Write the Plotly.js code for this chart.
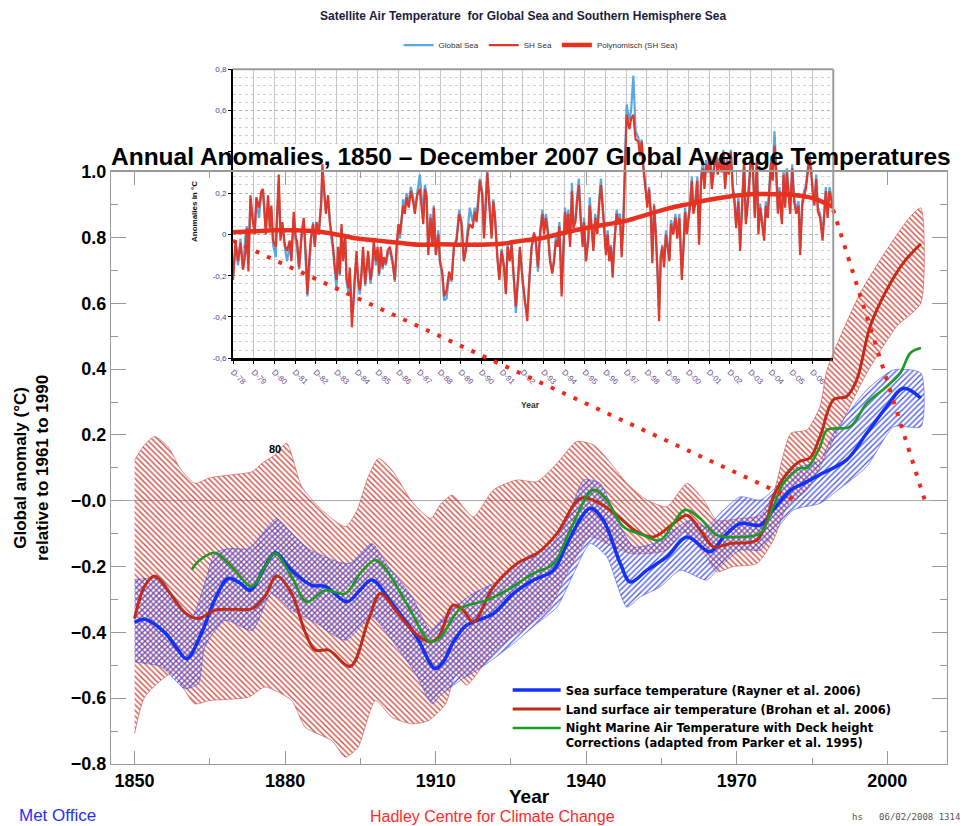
<!DOCTYPE html>
<html>
<head>
<meta charset="utf-8">
<script src="https://cdn.plot.ly/plotly-3.0.1.min.js"></script>
<style>
  html, body { margin: 0; padding: 0; background: #fff; }
  #chart { width: 976px; height: 826px; }
</style>
</head>
<body>
<div id="chart"></div>
<script>
// ---------- Main chart: smoothed annual anomalies (°C, relative to 1961-1990) ----------
const seaYears = [1850,1852,1856,1858.5,1860.4,1863.4,1866,1868.7,1871,1873,1876,1878,1881.3,1885.3,1888,1892.3,1895,1897.3,1901.3,1906.2,1909.9,1911.5,1913.5,1916,1921.5,1925.5,1929.5,1933.5,1936.2,1940.8,1943.4,1946.8,1948.8,1952.1,1956.1,1960.1,1964.7,1967.4,1970.7,1974.7,1977.3,1980.8,1983,1986.6,1991.9,1995.9,1999.9,2003.2,2006.7];
const seaValues = [-0.37,-0.36,-0.40,-0.45,-0.48,-0.40,-0.30,-0.236,-0.25,-0.272,-0.20,-0.158,-0.211,-0.257,-0.26,-0.307,-0.27,-0.241,-0.312,-0.414,-0.51,-0.49,-0.43,-0.38,-0.343,-0.282,-0.241,-0.211,-0.13,-0.023,-0.059,-0.191,-0.247,-0.211,-0.17,-0.11,-0.155,-0.11,-0.069,-0.074,-0.028,0.033,0.05,0.08,0.124,0.205,0.286,0.342,0.312];

const landYears = [1850,1852,1854,1857,1860,1862.7,1866,1870,1873.4,1876,1878.3,1881.3,1884,1886,1888.7,1893,1896.6,1899,1902,1906,1908.9,1910.6,1913.5,1915.5,1917.5,1921.5,1926.2,1930.2,1934.2,1938.8,1942.1,1946.1,1950.1,1953.4,1957.4,1960.1,1962.7,1965.4,1968.7,1974,1976,1977.3,1980,1982.6,1984.6,1986.6,1989.3,1991.9,1993.9,1996.6,1999.9,2003.2,2006.7];
const landValues = [-0.358,-0.26,-0.229,-0.28,-0.34,-0.358,-0.333,-0.33,-0.328,-0.29,-0.229,-0.282,-0.40,-0.454,-0.454,-0.503,-0.363,-0.282,-0.333,-0.404,-0.429,-0.413,-0.317,-0.333,-0.368,-0.262,-0.191,-0.16,-0.099,0.007,-0.003,-0.044,-0.094,-0.11,-0.069,-0.044,-0.089,-0.14,-0.13,-0.12,-0.059,0.012,0.083,0.12,0.13,0.195,0.307,0.317,0.367,0.53,0.641,0.723,0.781];

const nmatYears = [1861.4,1863,1866,1868,1870,1873.4,1876,1878,1881.3,1884.3,1888,1892,1895,1898,1900.2,1904.6,1909,1911,1914.9,1920.2,1924.2,1929.5,1933.5,1936.8,1941.4,1944.1,1947.4,1951.4,1954.7,1959.7,1962.7,1966,1970.7,1974.7,1977.3,1979.3,1982.6,1984,1986.6,1988,1992.6,1995.9,1999.9,2002.6,2004.6,2006.7];
const nmatValues = [-0.209,-0.18,-0.158,-0.18,-0.211,-0.26,-0.2,-0.16,-0.231,-0.307,-0.272,-0.282,-0.22,-0.18,-0.211,-0.323,-0.429,-0.414,-0.328,-0.302,-0.272,-0.221,-0.191,-0.089,0.033,0.002,-0.079,-0.104,-0.12,-0.028,-0.054,-0.104,-0.11,-0.099,-0.018,0.053,0.099,0.10,0.164,0.215,0.225,0.296,0.347,0.388,0.449,0.464];

// Uncertainty ranges
const landUpperYears = [1850,1852,1854,1856.7,1859,1862,1865,1870,1873.4,1875.4,1878,1880.3,1883.3,1887.3,1892,1894.3,1896.5,1898.6,1901.3,1905.3,1909,1911,1913.3,1917.5,1921.5,1926.2,1930.2,1934.2,1938.1,1941.4,1944.1,1948.1,1952.1,1956.1,1960.1,1963.4,1966,1970.7,1974.7,1977.3,1980.8,1984,1986.6,1988,1994.6,1999.9,2004.6,2006.7];
const landUpper = [0.124,0.17,0.195,0.164,0.10,0.053,0.07,0.08,0.088,0.114,0.14,0.175,0.043,-0.028,-0.079,-0.03,0.07,0.129,0.093,-0.003,-0.054,-0.01,0.017,-0.049,0.033,0.063,0.058,0.114,0.18,0.17,0.129,0.053,0.002,-0.018,0.053,0.002,-0.059,-0.054,-0.044,0.022,0.205,0.215,0.286,0.398,0.631,0.763,0.864,0.89];
const landLowerYears = [1850,1852,1857.4,1862,1865,1872.7,1876,1881.3,1884,1889.3,1892,1894.5,1898,1901.3,1905.3,1908.6,1912,1914,1916.2,1920.2,1924.2,1928.2,1932.8,1936.2,1940.8,1945.4,1948.8,1952.8,1956.1,1959.4,1964,1966,1969.3,1974,1977.3,1980,1984,1989.3,1995.9,2001.9,2006.7];
const landLower = [-0.708,-0.597,-0.526,-0.617,-0.607,-0.597,-0.566,-0.607,-0.688,-0.729,-0.779,-0.75,-0.607,-0.658,-0.678,-0.668,-0.617,-0.53,-0.56,-0.485,-0.424,-0.383,-0.323,-0.221,-0.11,-0.14,-0.16,-0.16,-0.15,-0.094,-0.17,-0.216,-0.2,-0.191,-0.12,-0.018,0.033,0.185,0.388,0.53,0.601];

const seaUpperYears = [1850,1855.4,1857.4,1861.4,1864,1866,1868.7,1872.7,1875.5,1878.3,1881.3,1884.6,1890.6,1893,1897.3,1900.6,1905.3,1909,1912.2,1917.5,1922.8,1928.2,1932.8,1936.2,1939.5,1942.8,1946.1,1949.5,1953.4,1957.4,1960.7,1964,1966.7,1970.7,1974.7,1977.3,1980.8,1986.6,1989.3,1995.9,2001.3,2006.7];
const seaUpper = [-0.239,-0.239,-0.282,-0.353,-0.25,-0.16,-0.145,-0.145,-0.10,-0.054,-0.099,-0.145,-0.186,-0.19,-0.13,-0.2,-0.292,-0.394,-0.343,-0.282,-0.241,-0.17,-0.14,-0.059,0.063,0.053,-0.059,-0.14,-0.13,-0.089,-0.059,-0.079,-0.038,0.012,0.002,0.033,0.093,0.124,0.205,0.337,0.398,0.388];
const seaLowerYears = [1850,1855.4,1860,1862.7,1864,1868,1873.4,1877.3,1881.3,1886,1892,1897.3,1901.3,1906,1909.3,1911,1914.9,1920.2,1925.5,1930.2,1934.2,1937.5,1940.8,1944.1,1948.1,1950.8,1954.7,1958.8,1964,1966.7,1970.7,1974.7,1977.3,1981.3,1986.6,1989.3,1995.9,2001.3,2006.7];
const seaLower = [-0.49,-0.505,-0.571,-0.556,-0.444,-0.363,-0.394,-0.282,-0.333,-0.37,-0.424,-0.353,-0.424,-0.526,-0.617,-0.59,-0.546,-0.495,-0.434,-0.373,-0.323,-0.221,-0.13,-0.17,-0.323,-0.292,-0.262,-0.211,-0.241,-0.2,-0.15,-0.15,-0.099,-0.028,-0.008,0.022,0.104,0.225,0.225];

// Dotted connectors from the satellite panel down to the main record
const connectorLeftYears = [1869.6, 1982.0];
const connectorLeftValues = [0.79, 0.0];
const connectorRightYears = [1989.2, 2007.5];
const connectorRightValues = [0.885, 0.0];

const mainXTicks = [1850, 1880, 1910, 1940, 1970, 2000];
const mainYTicks = [-0.8, -0.6, -0.4, -0.2, 0, 0.2, 0.4, 0.6, 0.8, 1.0];
const mainYLabels = ['\u22120.8', '\u22120.6', '\u22120.4', '\u22120.2', '\u22120.0', '0.2', '0.4', '0.6', '0.8', '1.0'];

// ---------- Satellite panel: monthly anomalies from Dec 1978 (month 0) ----------
const insetMonths = [
  0,1.5,2.9,4.3,5.8,7.2,8.1,8.9,10.1,11.2,
  12.6,13.5,15.1,16.4,17.4,19.0,20.3,21.3,22.2,23.2,
  24.8,25.5,26.5,27.5,28.6,30.0,31.3,32.9,33.8,35.2,
  36.4,37.1,38.3,39.7,41.0,42.2,43.1,44.1,45.1,46.4,
  47.4,48.4,49.7,51.1,51.8,52.8,53.8,55.1,56.1,57.1,
  58.0,59.0,60.0,60.9,61.9,62.9,63.8,65.0,65.8,66.9,
  67.7,68.9,69.6,70.6,71.6,72.5,73.5,74.5,75.4,76.6,
  77.4,78.3,79.7,80.7,81.6,82.8,83.8,84.7,85.7,86.7,
  87.4,88.6,89.6,90.9,92.5,93.8,94.8,95.9,96.7,97.7,
  98.6,99.6,100.6,101.9,103.1,104.4,105.4,106.8,
  108.3,110.3,111.2,112.2,113.2,114.5,115.7,116.4,117.6,119.0,
  120.0,121.3,122.4,123.8,125.3,126.7,128.1,129.6,131.1,132.5,
  133.8,135.0,136.4,137.3,138.9,140.2,141.2,142.2,143.1,144.5,
  145.5,146.6,147.4,148.6,149.9,150.9,151.9,153.2,154.4,155.7,
  157.1,158.2,159.2,160.5,161.5,162.8,164.0,165.4,166.3,167.9,
  169.2,170.6,171.8,173.1,174.5,175.6,176.8,178.0,179.4,180.3,
  181.4,182.6,183.8,185.1,186.1,187.2,188.2,189.2,190.5,191.5,
  192.5,193.4,194.4,195.4,196.5,197.3,198.5,199.5,200.5,201.5,
  202.7,203.5,204.6,206.0,206.8,207.9,208.9,210.0,211.2,212.4,
  213.3,214.3,215.3,216.2,217.2,218.1,219.1,220.1,221.0,222.4,
  223.3,224.4,225.3,
  226.3,228.2,229.8,230.8,232.1,233.4,235.0,235.9,236.9,237.9,
  239.3,240.2,241.2,242.2,243.1,244.1,245.1,246.0,247.0,248.0,
  248.9,249.9,251.0,252.0,253.0,253.9,255.3,256.5,257.6,258.8,
  260.2,261.2,262.1,263.1,264.1,265.0,266.0,266.9,267.9,269.2,
  270.2,271.4,272.3,273.3,274.3,275.6,276.6,277.6,278.9,280.1,
  281.0,282.0,283.4,284.3,285.3,286.3,287.4,288.6,289.7,290.7,
  291.7,293.0,294.0,295.0,296.3,297.3,298.3,299.4,300.4,301.4,
  302.5,303.7,304.6,305.6,306.8,307.9,308.9,310.0,311.0,312.0,
  312.9,313.9,314.9,315.9,316.8,318.2,319.2,320.1,321.1,322.1,
  323.0,324.2,325.3,326.5,327.9,328.8,330.0,331.1,332.1,333.1,
  334.2,335.2,336.2,337.1,338.1,339.1,340.4,341.8,342.7,343.7,
  344.7,345.8,347.0,348.0
];
const shSea = [
  -0.22,-0.03,-0.13,-0.04,-0.17,-0.09,0.03,-0.18,0.19,0.08,
  0.0,0.18,0.13,0.21,0.22,0.0,0.19,0.03,0.14,-0.03,
  -0.06,0.1,0.29,-0.03,0.06,-0.05,-0.08,-0.03,-0.13,0.11,
  -0.02,-0.03,-0.16,0.0,0.08,-0.1,-0.29,-0.13,-0.02,0.05,
  -0.06,0.06,0.0,0.16,0.34,0.22,0.1,0.19,0.06,0.0,
  -0.06,-0.16,-0.22,-0.06,-0.19,0.05,-0.13,0.0,-0.21,-0.26,
  -0.16,-0.45,-0.35,-0.18,-0.08,-0.22,-0.27,-0.18,-0.06,-0.24,
  -0.16,-0.08,-0.22,-0.16,-0.03,-0.13,-0.06,-0.19,-0.06,-0.16,
  -0.11,-0.14,-0.08,-0.06,-0.13,-0.22,-0.06,0.05,0.0,0.08,
  0.14,0.1,0.18,0.13,0.21,0.16,0.1,0.19,
  0.22,0.05,0.22,0.18,-0.1,0.08,-0.06,0.13,-0.1,0.0,
  -0.13,-0.18,-0.3,-0.27,-0.18,-0.22,-0.06,-0.03,0.1,0.05,
  -0.13,-0.08,0.02,0.05,0.03,0.11,0.06,0.16,0.26,0.19,
  -0.02,0.16,0.3,0.14,-0.02,0.16,0.08,-0.11,-0.22,-0.08,
  -0.16,-0.29,-0.06,-0.13,-0.05,-0.21,-0.35,-0.19,-0.06,-0.22,
  -0.32,-0.42,-0.21,-0.06,0.01,-0.03,-0.16,0.0,0.1,0.0,
  0.08,0.0,-0.13,-0.19,-0.13,-0.03,-0.06,0.04,-0.3,-0.06,
  0.11,0.0,0.1,-0.06,0.21,0.03,0.06,0.16,0.24,0.08,
  -0.06,0.06,-0.13,-0.03,0.14,0.03,-0.08,0.08,0.0,0.16,
  0.24,0.13,0.03,-0.1,0.0,-0.13,-0.06,-0.21,-0.06,0.1,
  0.06,0.08,-0.11,
  0.05,0.58,0.51,0.56,0.58,0.46,0.45,0.38,0.45,0.32,
  0.22,0.13,0.22,0.1,-0.14,0.14,0.0,-0.16,-0.42,-0.11,
  -0.06,-0.16,0.0,-0.06,-0.13,0.05,0.0,0.08,-0.02,0.08,
  -0.22,-0.06,0.11,0.0,0.08,0.14,0.26,0.1,0.14,0.26,
  -0.05,0.27,0.32,0.22,0.34,0.3,0.37,0.22,0.32,0.38,
  0.29,0.35,0.3,0.4,0.22,0.35,0.29,0.4,0.22,0.16,
  0.03,0.16,-0.08,0.11,0.35,0.05,0.13,0.26,0.38,0.32,
  0.08,0.35,0.0,0.13,0.03,-0.03,0.14,0.08,0.22,0.35,
  0.26,0.43,0.3,0.1,0.21,0.05,0.29,0.13,0.3,0.19,
  0.1,0.32,0.16,0.1,0.14,-0.1,0.14,0.19,0.22,0.29,
  0.37,0.3,0.19,0.14,0.27,0.11,0.08,-0.03,0.1,0.21,
  0.08,0.21,0.16,0.13
];
const globalSea = [
  -0.2,-0.05,-0.15,-0.02,-0.17,0.0,0.04,-0.12,0.17,0.1,
  0.02,0.16,0.08,0.2,0.2,0.03,0.17,0.05,0.12,-0.05,
  -0.11,0.08,0.24,-0.01,0.04,-0.06,-0.13,-0.05,-0.12,0.09,
  -0.04,-0.06,-0.17,-0.02,0.06,-0.14,-0.3,-0.19,-0.04,0.06,
  -0.05,0.05,0.01,0.14,0.3,0.2,0.12,0.17,0.05,-0.02,
  -0.08,-0.2,-0.27,-0.08,-0.2,0.03,-0.12,-0.02,-0.23,-0.28,
  -0.18,-0.38,-0.36,-0.2,-0.1,-0.24,-0.29,-0.2,-0.08,-0.25,
  -0.17,-0.1,-0.24,-0.18,-0.05,-0.15,-0.08,-0.2,-0.08,-0.17,
  -0.12,-0.15,-0.1,-0.08,-0.14,-0.23,-0.08,0.02,-0.02,0.06,
  0.17,0.12,0.2,0.15,0.23,0.18,0.12,0.21,
  0.29,0.08,0.24,0.2,-0.08,0.1,-0.05,0.14,-0.1,0.02,
  -0.14,-0.2,-0.32,-0.31,-0.2,-0.23,-0.05,-0.02,0.12,0.06,
  -0.12,-0.06,0.05,0.13,0.06,0.13,0.08,0.18,0.27,0.21,
  0.0,0.18,0.31,0.16,0.0,0.17,0.09,-0.1,-0.21,-0.07,
  -0.15,-0.28,-0.05,-0.12,-0.04,-0.22,-0.38,-0.2,-0.07,-0.23,
  -0.33,-0.38,-0.22,-0.07,0.0,-0.05,-0.18,0.01,0.12,0.02,
  0.1,0.02,-0.12,-0.18,-0.12,-0.01,-0.04,0.06,-0.24,-0.04,
  0.13,0.02,0.12,-0.04,0.25,0.05,0.08,0.18,0.27,0.1,
  -0.04,0.08,-0.11,-0.01,0.18,0.05,-0.06,0.1,0.02,0.18,
  0.27,0.15,0.05,-0.08,0.02,-0.12,-0.05,-0.18,-0.04,0.12,
  0.08,0.1,-0.08,
  0.08,0.63,0.55,0.6,0.77,0.5,0.47,0.4,0.46,0.34,
  0.24,0.15,0.23,0.12,-0.1,0.15,0.02,-0.14,-0.36,-0.1,
  -0.05,-0.14,0.02,-0.04,-0.12,0.07,0.02,0.1,0.0,0.1,
  -0.2,-0.04,0.13,0.02,0.1,0.16,0.28,0.12,0.16,0.28,
  -0.03,0.29,0.34,0.24,0.36,0.32,0.38,0.24,0.34,0.4,
  0.31,0.37,0.32,0.41,0.24,0.37,0.31,0.41,0.24,0.18,
  0.05,0.18,-0.06,0.13,0.36,0.07,0.15,0.28,0.4,0.34,
  0.1,0.37,0.02,0.15,0.05,-0.01,0.16,0.1,0.24,0.38,
  0.3,0.5,0.34,0.12,0.23,0.07,0.31,0.15,0.32,0.21,
  0.12,0.34,0.18,0.12,0.16,-0.07,0.16,0.21,0.24,0.31,
  0.39,0.32,0.21,0.16,0.29,0.13,0.1,-0.01,0.12,0.23,
  0.1,0.23,0.18,0.15
];
const polyMonths = [0,12,24,36,48,60,72,84,96,108,120,132,144,156,168,180,192,204,216,228,240,252,264,276,288,300,312,324,336,348];
const polyTrend = [0.01,0.015,0.02,0.02,0.015,0.0,-0.02,-0.03,-0.04,-0.05,-0.048,-0.05,-0.05,-0.045,-0.03,-0.016,0.008,0.03,0.048,0.066,0.096,0.125,0.147,0.168,0.184,0.195,0.195,0.192,0.176,0.133];

const insetTickMonths = [0,12,24,36,48,60,72,84,96,108,120,132,144,156,168,180,192,204,216,228,240,252,264,276,288,300,312,324,336];
const insetTickLabels = ['D-78','D-79','D-80','D-81','D-82','D-83','D-84','D-85','D-86','D-87','D-88','D-89','D-90','D-91','D-92','D-93','D-94','D-95','D-96','D-97','D-98','D-99','D-00','D-01','D-02','D-03','D-04','D-05','D-06'];
// the 0,4 label sits under the main heading
const insetYTicks = [-0.6, -0.4, -0.2, 0, 0.2, 0.4, 0.6, 0.8];
const insetYLabels = ['-0,6', '-0,4', '-0,2', '0', '0,2', '', '0,6', '0,8'];

// ---------- Figure ----------
const FONT = 'Liberation Sans, Arial, Helvetica, sans-serif';
const LEGEND_FONT = 'DejaVu Sans, Liberation Sans, sans-serif';
const LAND_HATCH = 'rgba(205,60,48,0.9)';
const SEA_HATCH = 'rgba(60,75,235,0.9)';

function band(upX, upY, loX, loY, color, shape) {
  return {
    type: 'scatter', mode: 'lines', xaxis: 'x2', yaxis: 'y2',
    showlegend: false, hoverinfo: 'skip',
    x: upX.concat(loX.slice().reverse()),
    y: upY.concat(loY.slice().reverse()),
    fill: 'toself', fillcolor: 'rgba(0,0,0,0)',
    fillpattern: { shape: shape, fgcolor: color, bgcolor: 'rgba(255,255,255,0)', size: 4, solidity: 0.36 },
    line: { color: color, width: 0.6, shape: 'spline', smoothing: 0.6 }
  };
}

const traces = [
  // satellite panel
  { type: 'scatter', mode: 'lines', xaxis: 'x', yaxis: 'y', legend: 'legend2', name: 'Global Sea',
    x: insetMonths, y: globalSea, line: { color: '#5aa8e2', width: 2.2 }, hoverinfo: 'skip' },
  { type: 'scatter', mode: 'lines', xaxis: 'x', yaxis: 'y', legend: 'legend2', name: 'SH Sea',
    x: insetMonths, y: shSea, line: { color: '#e0382a', width: 2.2 }, hoverinfo: 'skip' },
  { type: 'scatter', mode: 'lines', xaxis: 'x', yaxis: 'y', legend: 'legend2', name: 'Polynomisch (SH Sea)',
    x: polyMonths, y: polyTrend, line: { color: '#e8301e', width: 4.5, shape: 'spline' }, hoverinfo: 'skip' },

  // main chart: uncertainty bands
  band(landUpperYears, landUpper, landLowerYears, landLower, LAND_HATCH, '\\'),
  band(seaUpperYears, seaUpper, seaLowerYears, seaLower, SEA_HATCH, '/'),

  // main chart: smoothed series
  { type: 'scatter', mode: 'lines', xaxis: 'x2', yaxis: 'y2', name: 'Sea surface temperature (Rayner et al. 2006)',
    x: seaYears, y: seaValues, line: { color: '#1432f5', width: 3.5, shape: 'spline', smoothing: 1 }, hoverinfo: 'skip' },
  { type: 'scatter', mode: 'lines', xaxis: 'x2', yaxis: 'y2', name: 'Land surface air temperature (Brohan et al. 2006)',
    x: landYears, y: landValues, line: { color: '#bf2c1a', width: 3, shape: 'spline', smoothing: 1 }, hoverinfo: 'skip' },
  { type: 'scatter', mode: 'lines', xaxis: 'x2', yaxis: 'y2',
    name: 'Night Marine Air Temperature with Deck height<br>Corrections (adapted from Parker et al. 1995)',
    x: nmatYears, y: nmatValues, line: { color: '#1c9a22', width: 2.6, shape: 'spline', smoothing: 1 }, hoverinfo: 'skip' },

  // connectors
  { type: 'scatter', mode: 'lines', xaxis: 'x2', yaxis: 'y2', showlegend: false, hoverinfo: 'skip',
    x: connectorLeftYears, y: connectorLeftValues, line: { color: '#f0281a', width: 4, dash: '4px,8.5px' } },
  { type: 'scatter', mode: 'lines', xaxis: 'x2', yaxis: 'y2', showlegend: false, hoverinfo: 'skip',
    x: connectorRightYears, y: connectorRightValues, line: { color: '#f0281a', width: 4, dash: '4px,8.5px' } }
];

const AXC = '#9a9a9a';
const layout = {
  width: 976, height: 826,
  margin: { l: 111, r: 29.3, t: 40, b: 62 },
  paper_bgcolor: '#ffffff', plot_bgcolor: 'rgba(0,0,0,0)',
  font: { family: FONT, color: '#000' },
  showlegend: true,

  // satellite panel axes
  xaxis: {
    domain: [0.14598, 0.86395], anchor: 'y', range: [0, 348],
    tickmode: 'array', tickvals: insetTickMonths, ticktext: insetTickLabels,
    tickangle: 45, tickfont: { size: 8, color: '#6a4f92' },
    showgrid: true, gridcolor: '#c6c6c6', gridwidth: 1,
    showline: true, linecolor: '#000', linewidth: 3,
    ticks: 'outside', ticklen: 3, tickcolor: '#000',
    zeroline: false, fixedrange: true
  },
  yaxis: {
    domain: [0.5604, 0.9595], anchor: 'x', range: [-0.6, 0.8],
    tickmode: 'array', tickvals: insetYTicks, ticktext: insetYLabels,
    tickfont: { size: 8, color: '#3a48a8' },
    showgrid: true, gridcolor: '#b9aab8', griddash: 'dot', gridwidth: 1,
    minor: { tickmode: 'linear', tick0: 0, dtick: 0.04, showgrid: true, gridcolor: '#dccbd8', griddash: 'dot', gridwidth: 1 },
    showline: true, linecolor: '#000', linewidth: 2,
    ticks: 'outside', ticklen: 3, tickcolor: '#000',
    zeroline: false, fixedrange: true
  },

  // main chart axes
  xaxis2: {
    domain: [0, 1], anchor: 'y2', range: [1845.3, 2011.9],
    tickmode: 'array', tickvals: mainXTicks, ticktext: mainXTicks.map(String),
    tickfont: { size: 18, weight: 'bold', color: '#000' },
    ticks: 'inside', ticklen: 13, tickcolor: AXC, tickwidth: 1,
    minor: { tickmode: 'linear', tick0: 1850, dtick: 15, ticks: 'inside', ticklen: 6, tickcolor: AXC },
    showline: true, linecolor: AXC, linewidth: 1.2, mirror: 'ticks',
    showgrid: false, zeroline: false, fixedrange: true
  },
  yaxis2: {
    domain: [0, 0.8181], anchor: 'x2', range: [-0.8, 1.0],
    tickmode: 'array', tickvals: mainYTicks, ticktext: mainYLabels,
    tickfont: { size: 18, weight: 'bold', color: '#000' },
    ticks: 'inside', ticklen: 15, tickcolor: AXC, tickwidth: 1,
    minor: { tickmode: 'linear', tick0: 0, dtick: 0.1, ticks: 'inside', ticklen: 7, tickcolor: AXC },
    showline: true, linecolor: AXC, linewidth: 1.2, mirror: 'ticks',
    showgrid: false, zeroline: true, zerolinecolor: '#ababab', zerolinewidth: 1, fixedrange: true
  },

  legend: {
    x: 0.4745, y: 0.1215, xanchor: 'left', yanchor: 'top',
    bgcolor: 'rgba(0,0,0,0)', borderwidth: 0,
    font: { size: 11.5, weight: 'bold', family: LEGEND_FONT, color: '#000' },
    valign: 'top', itemwidth: 48, tracegroupgap: 0
  },
  legend2: {
    orientation: 'h', x: 0.5145, y: 0.993, xanchor: 'center', yanchor: 'middle',
    bgcolor: 'rgba(0,0,0,0)', borderwidth: 0,
    font: { size: 8, family: FONT, color: '#333' }, itemwidth: 30
  },

  shapes: [
    // white strip behind the main heading, above the panel grid and below its lines
    { type: 'rect', xref: 'x', yref: 'y', x0: -80, x1: 430, y0: 0.312, y1: 0.438,
      fillcolor: '#ffffff', line: { width: 0 }, layer: 'between' },
    // light frame on the top and right of the satellite panel
    { type: 'line', xref: 'x domain', yref: 'y domain', x0: 0, x1: 1, y0: 1, y1: 1,
      line: { color: '#9c9c9c', width: 2 }, layer: 'above' },
    { type: 'line', xref: 'x domain', yref: 'y domain', x0: 1, x1: 1, y0: 0, y1: 1,
      line: { color: '#9c9c9c', width: 2 }, layer: 'above' }
  ],

  annotations: [
    { text: '<b>Annual Anomalies, 1850 \u2013 December 2007 Global Average Temperatures</b>',
      xref: 'paper', yref: 'paper', x: 0.5027, y: 0.8384, xanchor: 'center', yanchor: 'middle',
      showarrow: false, font: { size: 24.5, family: FONT, color: '#000' } },
    { text: '<b>Global anomaly (\u00b0C)<br>relative to 1961 to 1990</b>',
      xref: 'paper', yref: 'paper', x: -0.0957, y: 0.4088, xanchor: 'center', yanchor: 'middle',
      textangle: -90, showarrow: false, font: { size: 17, family: FONT, color: '#000' } },
    { text: '<b>Year</b>', xref: 'paper', yref: 'paper', x: 0.5002, y: -0.0442,
      xanchor: 'center', yanchor: 'middle', showarrow: false, font: { size: 19, family: FONT, color: '#000' } },
    { text: 'Met Office', xref: 'paper', yref: 'paper', x: -0.1125, y: -0.0718,
      xanchor: 'left', yanchor: 'middle', showarrow: false, font: { size: 17, family: FONT, color: '#2630ff' } },
    { text: 'Hadley Centre for Climate Change', xref: 'paper', yref: 'paper', x: 0.4559, y: -0.0732,
      xanchor: 'center', yanchor: 'middle', showarrow: false, font: { size: 16, family: FONT, color: '#ff2a2a' } },
    { text: 'hs   06/02/2008 1314', xref: 'paper', yref: 'paper', x: 0.8843, y: -0.0732,
      xanchor: 'left', yanchor: 'middle', showarrow: false, font: { size: 9, family: 'DejaVu Sans Mono, monospace', color: '#555' } },
    { text: '<b>80</b>', xref: 'x2', yref: 'y2', x: 1878, y: 0.157,
      xanchor: 'center', yanchor: 'middle', showarrow: false, font: { size: 11, family: FONT, color: '#000' } },
    { text: '<b>Satellite Air Temperature  for Global Sea and Southern Hemisphere Sea</b>',
      xref: 'paper', yref: 'paper', x: 0.493, y: 1.0331, xanchor: 'center', yanchor: 'middle',
      showarrow: false, font: { size: 12, family: FONT, color: '#1c1c3c' } },
    { text: '<b>Anomalies in \u00b0C</b>', xref: 'paper', yref: 'paper', x: 0.0993, y: 0.7624,
      xanchor: 'center', yanchor: 'middle', textangle: -90, showarrow: false,
      font: { size: 8, family: FONT, color: '#111' } },
    { text: '<b>Year</b>', xref: 'paper', yref: 'paper', x: 0.5014, y: 0.4959,
      xanchor: 'center', yanchor: 'middle', showarrow: false, font: { size: 8.5, family: FONT, color: '#333' } }
  ]
};

Plotly.newPlot('chart', traces, layout, { displayModeBar: false, staticPlot: true });
</script>
</body>
</html>
